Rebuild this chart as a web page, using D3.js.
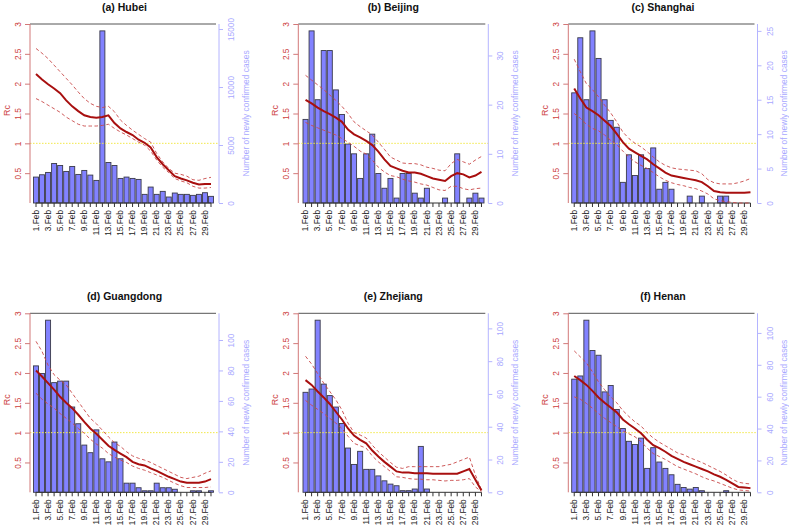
<!DOCTYPE html>
<html><head><meta charset="utf-8">
<script src="https://cdn.jsdelivr.net/npm/d3@7"></script>
<style>
html,body{margin:0;padding:0;background:#fff;}
svg{display:block;font-family:"Liberation Sans",Arial,sans-serif;}
</style></head>
<body><svg id="c" width="789" height="529"></svg>
<script>
// ---------------- DATA ----------------
const days = ["1.Feb","2.Feb","3.Feb","4.Feb","5.Feb","6.Feb","7.Feb","8.Feb","9.Feb","10.Feb",
  "11.Feb","12.Feb","13.Feb","14.Feb","15.Feb","16.Feb","17.Feb","18.Feb","19.Feb","20.Feb",
  "21.Feb","22.Feb","23.Feb","24.Feb","25.Feb","26.Feb","27.Feb","28.Feb","29.Feb","1.Mar"];
const shownDayLabels = ["1.Feb","3.Feb","5.Feb","7.Feb","9.Feb","11.Feb","13.Feb","15.Feb","17.Feb",
  "19.Feb","21.Feb","23.Feb","25.Feb","27.Feb","29.Feb"];
const rcTicks = [0.5, 1, 1.5, 2, 2.5, 3];

const titles = ["(a) Hubei","(b) Beijing","(c) Shanghai","(d) Guangdong","(e) Zhejiang","(f) Henan"];

const hubeiCases = [2235,2435,2636,3409,3237,2722,3152,2464,2808,2407,1948,14840,3495,3237,2120,2235,2120,2034,745,1375,745,1003,516,860,745,745,659,745,888,573];
const hubeiRc = [2.16,2.07,1.99,1.92,1.84,1.72,1.62,1.54,1.47,1.44,1.43,1.44,1.47,1.34,1.25,1.19,1.14,1.06,1.01,0.93,0.77,0.65,0.55,0.45,0.41,0.38,0.34,0.31,0.32,0.32];
const hubeiHi = [2.59,2.51,2.42,2.31,2.20,2.09,1.98,1.86,1.75,1.67,1.62,1.60,1.62,1.53,1.39,1.30,1.22,1.15,1.08,1.02,0.83,0.69,0.58,0.50,0.48,0.45,0.39,0.38,0.41,0.43];
const hubeiLo = [1.75,1.70,1.64,1.58,1.52,1.44,1.38,1.32,1.29,1.29,1.29,1.30,1.32,1.25,1.19,1.14,1.08,1.02,0.97,0.87,0.72,0.60,0.51,0.41,0.37,0.34,0.28,0.25,0.25,0.26];
const hubeiCaseTicks = [0,5000,10000,15000];

const beijingCases = [17,35,21,31,31,23,18,12,10,5,10,14,6,3,5,1,6,6,2,1,3,0,0,1,0,10,0,1,2,1];
const beijingRc = [1.73,1.67,1.60,1.54,1.49,1.43,1.36,1.23,1.15,1.10,1.04,0.97,0.86,0.73,0.62,0.58,0.54,0.51,0.51,0.49,0.45,0.41,0.39,0.37,0.45,0.50,0.48,0.43,0.46,0.52];
const beijingHi = [2.14,2.06,1.98,1.90,1.81,1.72,1.62,1.50,1.36,1.28,1.21,1.14,1.02,0.90,0.77,0.72,0.67,0.66,0.66,0.64,0.60,0.58,0.55,0.54,0.66,0.73,0.69,0.65,0.72,0.78];
const beijingLo = [1.35,1.30,1.26,1.22,1.18,1.14,1.08,1.02,0.95,0.87,0.82,0.72,0.60,0.52,0.46,0.44,0.40,0.37,0.35,0.32,0.30,0.26,0.22,0.21,0.28,0.28,0.24,0.22,0.24,0.25];
const beijingCaseTicks = [0,10,20,30];

const shanghaiCases = [16,24,15,25,21,15,12,11,3,7,4,7,5,8,2,3,2,0,0,1,0,1,0,0,1,1,0,0,0,0];
const shanghaiRc = [1.92,1.75,1.60,1.54,1.47,1.38,1.29,1.16,1.02,0.91,0.85,0.79,0.73,0.65,0.58,0.51,0.46,0.44,0.42,0.40,0.38,0.35,0.28,0.20,0.18,0.17,0.17,0.17,0.17,0.18];
const shanghaiHi = [2.41,2.20,2.00,1.90,1.78,1.64,1.51,1.36,1.19,1.08,1.00,0.94,0.86,0.77,0.69,0.63,0.59,0.57,0.56,0.55,0.54,0.49,0.39,0.34,0.32,0.32,0.32,0.34,0.37,0.41];
const shanghaiLo = [1.50,1.42,1.32,1.25,1.21,1.14,1.05,0.98,0.87,0.77,0.69,0.63,0.58,0.51,0.44,0.38,0.34,0.31,0.29,0.26,0.24,0.20,0.15,0.07,0.04,0.02,0.01,0,0,0];
const shanghaiCaseTicks = [0,5,10,15,20,25];

const guangdongCases = [83,78,113,72,73,73,56,45,31,26,41,22,20,33,22,6,6,3,1,1,6,3,3,2,0,0,1,1,0,1];
const guangdongRc = [2.04,1.94,1.83,1.72,1.60,1.50,1.41,1.30,1.18,1.07,0.98,0.88,0.78,0.71,0.65,0.59,0.51,0.47,0.45,0.40,0.36,0.31,0.26,0.22,0.18,0.16,0.16,0.16,0.18,0.22];
const guangdongHi = [2.53,2.36,2.13,1.97,1.88,1.80,1.66,1.52,1.38,1.24,1.15,1.04,0.93,0.83,0.77,0.68,0.61,0.57,0.54,0.50,0.45,0.40,0.35,0.30,0.25,0.23,0.25,0.27,0.32,0.36];
const guangdongLo = [1.66,1.56,1.48,1.41,1.32,1.24,1.16,1.07,0.99,0.89,0.81,0.74,0.65,0.59,0.54,0.50,0.44,0.40,0.37,0.33,0.29,0.25,0.20,0.15,0.11,0.08,0.08,0.08,0.08,0.09];
const guangdongCaseTicks = [0,20,40,60,80,100];

const zhejiangCases = [61,63,105,66,59,52,42,27,17,25,14,14,10,7,5,4,1,1,2,28,2,0,0,0,0,0,0,0,0,0];
const zhejiangRc = [1.88,1.80,1.69,1.59,1.48,1.35,1.22,1.07,0.95,0.88,0.82,0.70,0.60,0.51,0.43,0.35,0.33,0.33,0.32,0.32,0.32,0.31,0.31,0.31,0.31,0.31,0.35,0.39,0.21,0.03];
const zhejiangHi = [2.28,2.15,1.99,1.83,1.69,1.55,1.38,1.16,1.00,0.96,0.91,0.79,0.68,0.59,0.50,0.42,0.40,0.43,0.43,0.43,0.43,0.43,0.43,0.45,0.47,0.51,0.55,0.59,0.29,0.04];
const zhejiangLo = [1.54,1.46,1.39,1.32,1.24,1.16,1.07,0.94,0.82,0.78,0.74,0.61,0.51,0.43,0.35,0.26,0.25,0.23,0.22,0.22,0.21,0.21,0.20,0.19,0.20,0.20,0.21,0.23,0.09,0.01];
const zhejiangCaseTicks = [0,20,40,60,80,100];

const henanCases = [71,73,108,89,86,63,67,52,40,32,30,34,15,28,19,15,11,5,3,2,3,1,0,0,0,1,0,0,0,0];
const henanRc = [1.95,1.88,1.80,1.70,1.59,1.50,1.42,1.34,1.22,1.14,1.07,0.99,0.88,0.79,0.74,0.68,0.61,0.56,0.51,0.47,0.43,0.39,0.35,0.30,0.26,0.21,0.15,0.09,0.08,0.07];
const henanHi = [2.37,2.27,2.17,2.02,1.85,1.72,1.60,1.50,1.37,1.27,1.18,1.11,1.00,0.91,0.84,0.78,0.72,0.66,0.63,0.58,0.54,0.50,0.45,0.40,0.35,0.29,0.22,0.17,0.15,0.14];
const henanLo = [1.60,1.56,1.49,1.41,1.32,1.24,1.17,1.10,1.03,0.98,0.93,0.85,0.74,0.65,0.60,0.55,0.49,0.43,0.39,0.35,0.31,0.26,0.22,0.19,0.15,0.11,0.07,0.04,0.03,0.02];
const henanCaseTicks = [0,20,40,60,80,100];

// ---------------- LAYOUT ----------------
const panels = [
  {title:titles[0], cases:hubeiCases, rc:hubeiRc, hi:hubeiHi, lo:hubeiLo, ticks:hubeiCaseTicks, col:0, row:0},
  {title:titles[1], cases:beijingCases, rc:beijingRc, hi:beijingHi, lo:beijingLo, ticks:beijingCaseTicks, col:1, row:0},
  {title:titles[2], cases:shanghaiCases, rc:shanghaiRc, hi:shanghaiHi, lo:shanghaiLo, ticks:shanghaiCaseTicks, col:2, row:0},
  {title:titles[3], cases:guangdongCases, rc:guangdongRc, hi:guangdongHi, lo:guangdongLo, ticks:guangdongCaseTicks, col:0, row:1},
  {title:titles[4], cases:zhejiangCases, rc:zhejiangRc, hi:zhejiangHi, lo:zhejiangLo, ticks:zhejiangCaseTicks, col:1, row:1},
  {title:titles[5], cases:henanCases, rc:henanRc, hi:henanHi, lo:henanLo, ticks:henanCaseTicks, col:2, row:1}
];
const cols = [
  {axL:30, axR:219, barL:33.5, barR:213.5},
  {axL:298.3, axR:488.3, barL:303, barR:484},
  {axL:568.3, axR:757.5, barL:571.7, barR:753}
];
const rows = [
  {top:24, bottom:203, titleY:10.5},
  {top:313.3, bottom:492.3, titleY:299.5}
];

const svg = d3.select("#c");
const RED_AX = "#d27878", RED_TXT = "#cc3d3d", BLUE_AX = "#b4b4ff", BLUE_TXT = "#a8a8ff";

panels.forEach(p => {
  const C = cols[p.col], R = rows[p.row];
  const g = svg.append("g");
  const x = d3.scaleBand().domain(days).range([C.barL, C.barR]).paddingInner(0.17).paddingOuter(0);
  const yR = d3.scaleLinear().domain([0, 3]).range([R.bottom, R.top]);
  const yC = d3.scaleLinear().domain([0, d3.max(p.cases) * 1.04]).range([R.bottom, R.top]);
  const cx = d => x(d) + x.bandwidth() / 2;

  // top frame line
  g.append("line").attr("x1", C.axL).attr("x2", C.axR - 3).attr("y1", R.top).attr("y2", R.top)
    .attr("stroke", "#555").attr("stroke-width", 1);

  // bars
  g.append("g").selectAll("rect").data(days.map((d, i) => ({d, v: p.cases[i]})).filter(o => o.v > 0))
    .join("rect")
    .attr("x", o => x(o.d)).attr("width", x.bandwidth())
    .attr("y", o => yC(o.v)).attr("height", o => yC(0) - yC(o.v))
    .attr("fill", "#8282ff").attr("stroke", "#3a3a4a").attr("stroke-width", 0.9);

  // x axis
  const xAxis = d3.axisBottom(x).tickSize(4).tickSizeOuter(0)
    .tickFormat(d => shownDayLabels.includes(d) ? d : "");
  const xg = g.append("g").attr("transform", `translate(0,${R.bottom})`).call(xAxis);
  xg.select(".domain").attr("stroke", "#333").attr("d", `M${cx(days[0])},0H${cx(days[days.length-1])}`);
  xg.selectAll(".tick line").attr("stroke", "#333");
  xg.selectAll(".tick text").attr("transform", "rotate(-90)")
    .attr("text-anchor", "end").attr("x", -7).attr("y", 0).attr("dy", "0.32em")
    .attr("font-size", 8.3).attr("fill", "#222").attr("font-family", "Liberation Sans, Arial, sans-serif");

  // Rc = 1 reference line
  g.append("line").attr("x1", C.axL).attr("x2", C.axR).attr("y1", yR(1)).attr("y2", yR(1))
    .attr("stroke", "#f2e84a").attr("stroke-width", 1).attr("stroke-dasharray", "1.5,1.5");

  // CI and Rc lines
  const line = d3.line().x((v, i) => cx(days[i])).y(v => yR(v));
  [p.hi, p.lo].forEach(arr => {
    g.append("path").attr("d", line(arr)).attr("fill", "none")
      .attr("stroke", "#c84848").attr("stroke-width", 0.9).attr("stroke-dasharray", "3.5,2.5");
  });
  g.append("path").attr("d", line(p.rc)).attr("fill", "none")
    .attr("stroke", "#a80f0f").attr("stroke-width", 2);

  // left Rc axis
  const lg = g.append("g").attr("transform", `translate(${C.axL},0)`)
    .call(d3.axisLeft(yR).tickValues(rcTicks).tickSize(5).tickSizeOuter(0).tickFormat(d3.format("")));
  lg.select(".domain").attr("stroke", RED_AX).attr("d", `M0,${R.bottom}V${R.top}`);
  lg.selectAll(".tick line").attr("stroke", RED_AX);
  lg.selectAll(".tick text").attr("transform", "rotate(-90)")
    .attr("text-anchor", "middle").attr("x", 0).attr("y", -9).attr("dy", 0)
    .attr("font-size", 8.3).attr("fill", RED_TXT).attr("font-family", "Liberation Sans, Arial, sans-serif");
  g.append("text").attr("transform", `translate(${C.axL - 20},${(R.top + R.bottom) / 2 - 3}) rotate(-90)`)
    .attr("text-anchor", "middle").attr("font-size", 9).attr("fill", RED_TXT).text("Rc");

  // right cases axis
  const rg = g.append("g").attr("transform", `translate(${C.axR},0)`)
    .call(d3.axisRight(yC).tickValues(p.ticks).tickSize(4).tickSizeOuter(0).tickFormat(d3.format("")));
  rg.select(".domain").attr("stroke", BLUE_AX).attr("d", `M0,${R.bottom}V${R.top}`);
  rg.selectAll(".tick line").attr("stroke", BLUE_AX);
  rg.selectAll(".tick text").attr("transform", "rotate(-90)")
    .attr("text-anchor", "middle").attr("x", 0).attr("y", 15).attr("dy", 0)
    .attr("font-size", 8.3).attr("fill", BLUE_TXT).attr("font-family", "Liberation Sans, Arial, sans-serif");
  g.append("text").attr("transform", `translate(${C.axR + 29.5},${(R.top + R.bottom) / 2}) rotate(-90)`)
    .attr("text-anchor", "middle").attr("font-size", 8.4).attr("fill", BLUE_TXT)
    .text("Number of newly confirmed cases");

  // title
  g.append("text").attr("x", (C.axL + C.axR) / 2).attr("y", R.titleY)
    .attr("text-anchor", "middle").attr("font-size", 10.5).attr("font-weight", "bold").attr("fill", "#111")
    .text(p.title);
});
</script></body></html>
